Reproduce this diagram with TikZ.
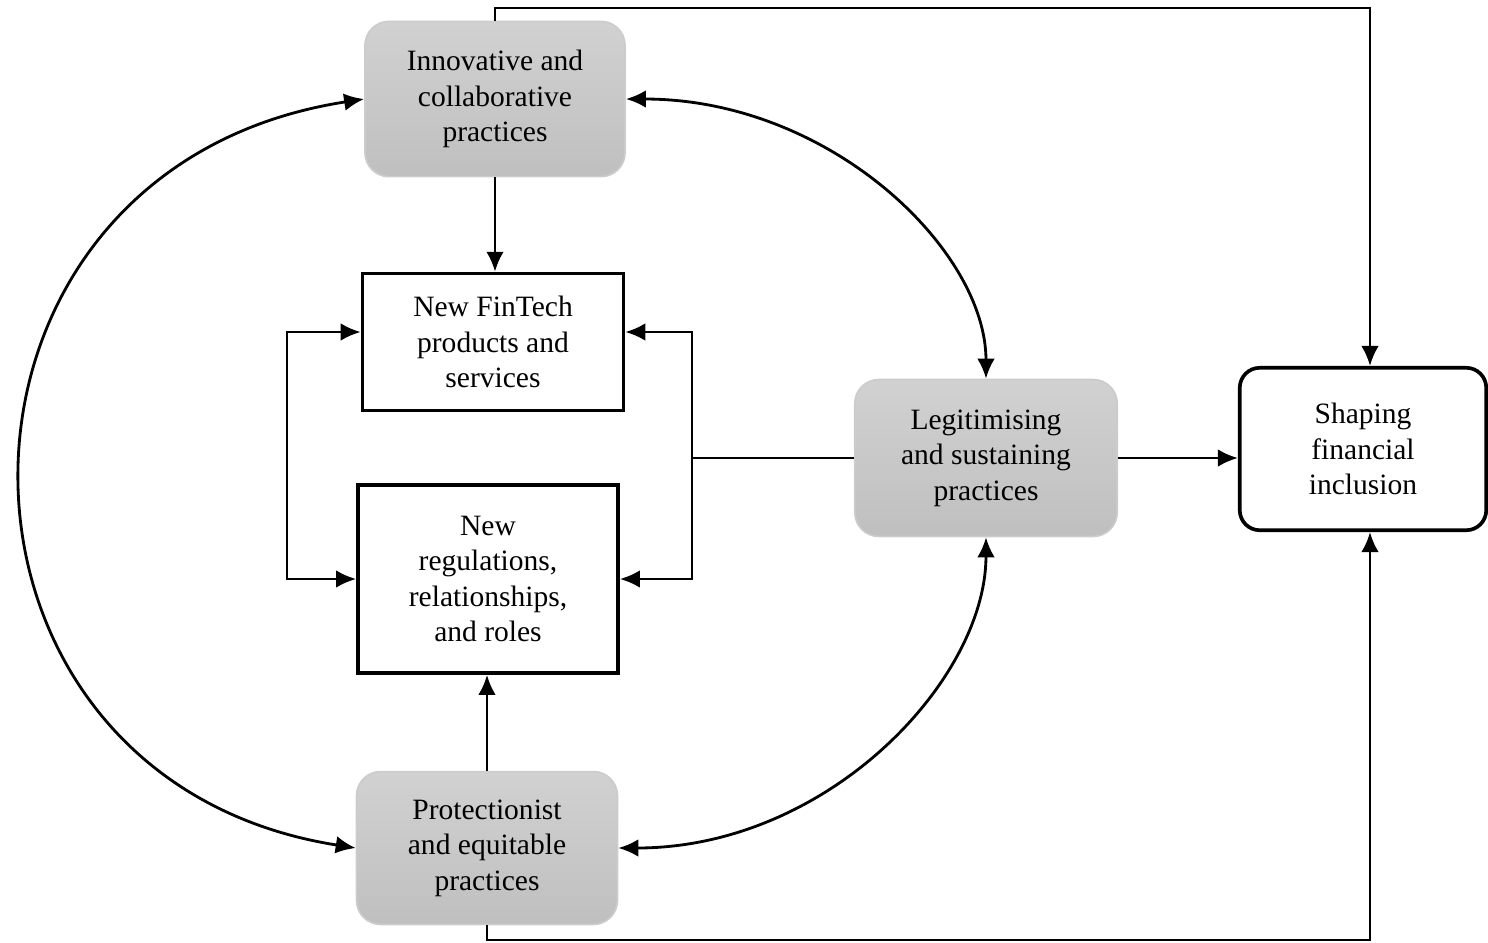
\documentclass[tikz,border=0pt]{standalone}
\usepackage{fontspec}
\setmainfont{Liberation Serif}
\usetikzlibrary{arrows.meta}

\begin{document}
\begin{tikzpicture}[x=0.0125cm, y=-0.0125cm,
  >={Latex[length=2.5mm,width=2.2mm]},
  every node/.style={align=center, font=\fontsize{10.5}{12.6}\selectfont},
  practice/.style={rounded corners=3mm, top color=gray!36, bottom color=gray!50, draw=gray!40, line width=0.6pt},
  outcome/.style={draw, line width=1.3pt, fill=white},
  link/.style={line width=1pt}]

\useasboundingbox (0,0) rectangle (1488,942);

% practices
\node[practice, minimum width=3.25cm, minimum height=1.94cm] (inn) at (495,99) {Innovative and\\collaborative\\practices};
\node[practice, minimum width=3.26cm, minimum height=1.91cm] (prot) at (487,848) {Protectionist\\and equitable\\practices};
\node[practice, minimum width=3.28cm, minimum height=1.96cm] (legit) at (986,458) {Legitimising\\and sustaining\\practices};

% outcomes
\node[outcome, minimum width=3.26cm, minimum height=1.71cm] (prod) at (493,342) {New FinTech\\products and\\services};
\node[outcome, minimum width=3.25cm, minimum height=2.35cm] (reg) at (488,579) {New\\regulations,\\relationships,\\and roles};
\node[outcome, rounded corners=2.5mm, minimum width=3.08cm, minimum height=2.03cm] (shape) at (1363,449) {Shaping\\financial\\inclusion};

% straight links
\draw[link,->] (inn.south) -- (inn.south |- prod.north);
\draw[link,->] (prot.north) -- (prot.north |- reg.south);
\draw[link,<->] ([yshift=1.25mm]prod.west) -| (287,458) |- (reg.west);
\draw[link] (legit.west) -- (692,458) coordinate (j);
\draw[link,->] (j) |- ([yshift=1.25mm]prod.east);
\draw[link,->] (j) |- (reg.east);
\draw[link,->] (legit.east) -- (legit.east -| shape.west);

% outer loop
\coordinate (ne) at (1370,8);
\coordinate (se) at (1370,940);
\draw[link,->] (inn.north) |- (ne) -- (ne |- shape.north);
\draw[link,->] (prot.south) |- (se) -- (se |- shape.south);

% curves
\draw[link,<->] (inn.west) .. controls (-90,169) and (-90,778) .. (prot.west);
\draw[link,<->] (inn.east) .. controls (830,99) and (986,250) .. (legit.north);
\draw[link,<->] (prot.east) .. controls (828,848) and (986,680) .. (legit.south);
\end{tikzpicture}
\end{document}
